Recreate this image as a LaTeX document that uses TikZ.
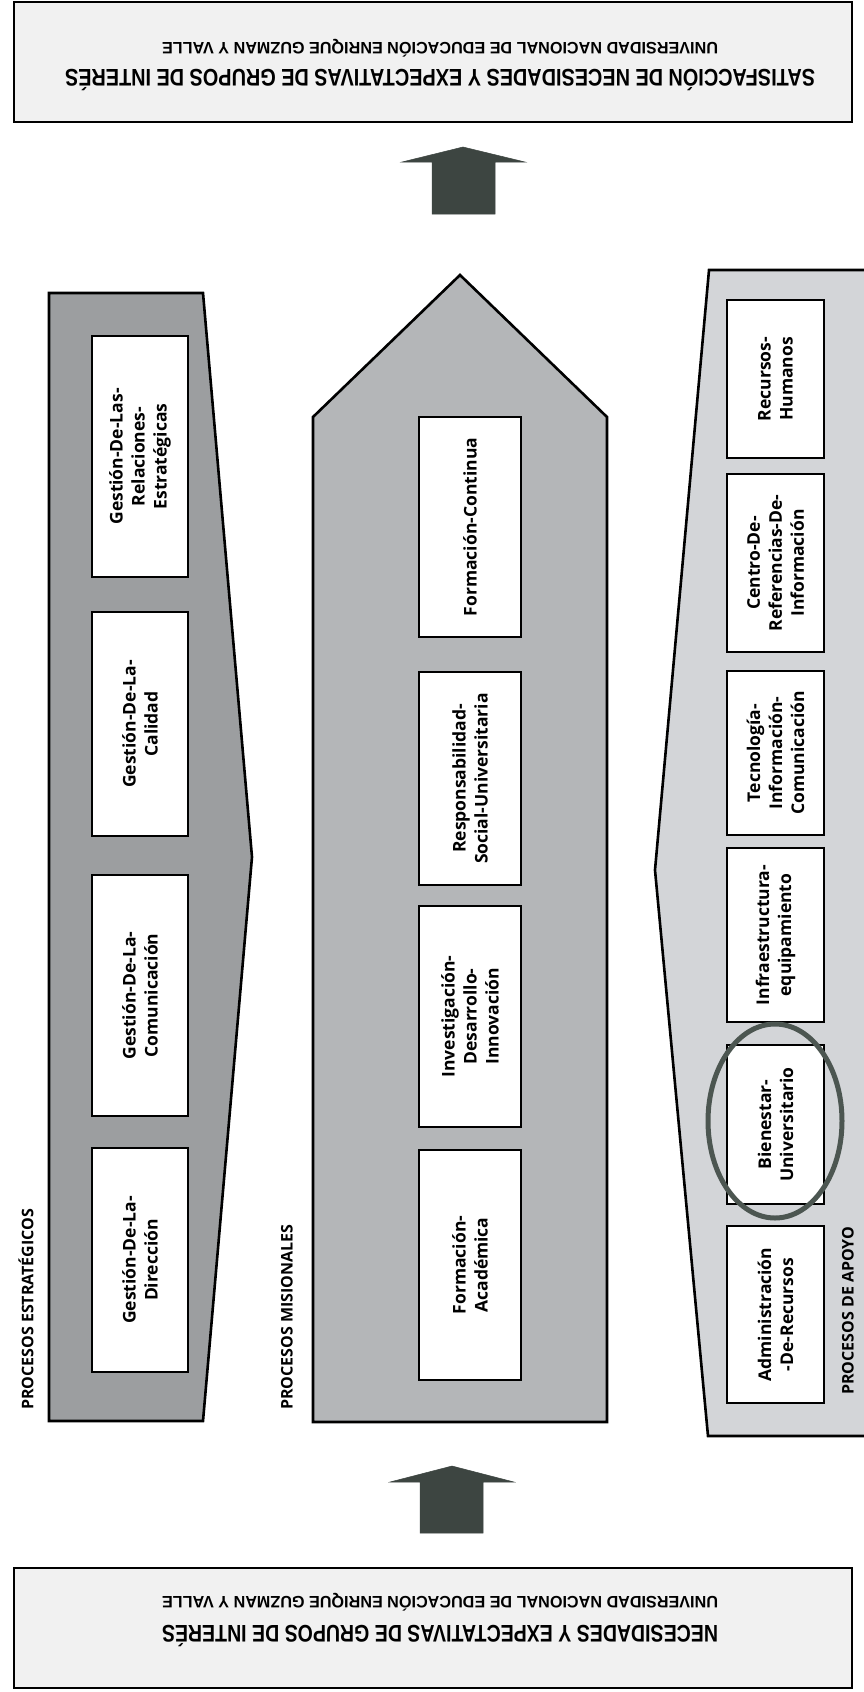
\documentclass[tikz,border=0pt]{standalone}
\usepackage{fontspec}
\setmainfont{Open Sans}
\newfontfamily\headfont{Liberation Sans}
\usetikzlibrary{shapes.geometric}

\definecolor{bannerfill}{HTML}{F1F1F1}
\definecolor{stratfill}{HTML}{9C9EA0}
\definecolor{misfill}{HTML}{B4B6B8}
\definecolor{apoyofill}{HTML}{D3D5D8}
\definecolor{arrowfill}{HTML}{3D4541}
\definecolor{ringcol}{HTML}{4C5651}

% scale a text horizontally to a given width (in pt)
\newsavebox\fitbox
\newcommand\fitwidth[2]{\sbox\fitbox{#2}\pgfmathsetmacro\fitratio{#1/\the\wd\fitbox}\scalebox{\fitratio}[1]{\usebox\fitbox}}

\begin{document}
\begin{tikzpicture}[x=1pt,y=-1pt,
  banner/.style={draw=black, fill=bannerfill, line width=2.2pt, minimum width=838pt, minimum height=120pt, inner sep=0pt},
  panel/.style={draw=black, line width=2.6pt, line join=miter},
  procbox/.style={draw=black, fill=white, line width=2pt, rotate=90, align=center, inner sep=0pt,
    font=\fontsize{17.5}{22}\selectfont\bfseries},
  grouplabel/.style={rotate=90, anchor=west, inner sep=0pt, font=\fontsize{16}{18}\selectfont\bfseries},
  bigline/.style={rotate=180, inner sep=0pt, font=\headfont\fontsize{24}{24}\selectfont\bfseries},
  smallline/.style={rotate=180, inner sep=0pt, font=\headfont\fontsize{16.5}{16.5}\selectfont\bfseries},
  uparrow/.style={fill=arrowfill, draw=arrowfill, line width=0.5pt, line join=miter}
]
\useasboundingbox (0,0) rectangle (863,1692);
\fill[white] (0,0) rectangle (863,1692);

% ---- banners -------------------------------------------------------
\node[banner] (topbanner) at (433,62) {};
\node[smallline] (topuni) at (440,48) {\fitwidth{556}{UNIVERSIDAD NACIONAL DE EDUCACIÓN ENRIQUE GUZMAN Y VALLE}};
\node[bigline] (topsat) at (440,80) {\fitwidth{750}{SATISFACCIÓN DE NECESIDADES Y EXPECTATIVAS DE GRUPOS DE INTERÉS}};

\node[banner] (botbanner) at (433,1628) {};
\node[smallline] (botuni) at (440,1602) {\fitwidth{556}{UNIVERSIDAD NACIONAL DE EDUCACIÓN ENRIQUE GUZMAN Y VALLE}};
\node[bigline] (botnec) at (440,1636) {\fitwidth{556}{NECESIDADES Y EXPECTATIVAS DE GRUPOS DE INTERÉS}};

% ---- arrows ----------------------------------------------------------
\draw[uparrow] (463,147) -- (525,162) -- (495,162) -- (495,214) -- (432,214) -- (432,162) -- (402,162) -- cycle;
\draw[uparrow] (452,1466) -- (514,1482) -- (483,1482) -- (483,1533) -- (420,1533) -- (420,1482) -- (390,1482) -- cycle;

% ---- strategic processes (chevron to the right) ----------------------
\draw[panel, fill=stratfill] (49,293) -- (203,293) -- (252,857) -- (203,1421) -- (49,1421) -- cycle;
\node[procbox, minimum width=241pt, minimum height=96pt] (relest) at (140,456.5) {Gestión-De-Las-\\Relaciones-\\Estratégicas};
\node[procbox, minimum width=224pt, minimum height=96pt] (calidad) at (140,724) {Gestión-De-La-\\Calidad};
\node[procbox, minimum width=241pt, minimum height=96pt] (comunic) at (140,995.5) {Gestión-De-La-\\Comunicación};
\node[procbox, minimum width=224pt, minimum height=96pt] (direcc) at (140,1260) {Gestión-De-La-\\Dirección};
\node[grouplabel] (lblest) at (26,1410) {PROCESOS ESTRATÉGICOS};

% ---- mission processes (house shape) -------------------------------
\draw[panel, fill=misfill] (313,417) -- (460,275) -- (607,417) -- (607,1422) -- (313,1422) -- cycle;
\node[procbox, minimum width=220pt, minimum height=102pt] (fcont) at (470,527) {Formación-Continua};
\node[procbox, minimum width=213pt, minimum height=102pt] (rsu) at (470,778.5) {Responsabilidad-\\Social-Universitaria};
\node[procbox, minimum width=221pt, minimum height=102pt] (idi) at (470,1016.5) {Investigación-\\Desarrollo-\\Innovación};
\node[procbox, minimum width=230pt, minimum height=102pt] (facad) at (470,1265) {Formación-\\Académica};
\node[grouplabel] (lblmis) at (287,1410) {PROCESOS MISIONALES};

% ---- support processes (notched on the left) -------------------------
\draw[panel, fill=apoyofill] (880,270) -- (709,270) -- (655,870) -- (708,1436) -- (880,1436);
\node[procbox, minimum width=158pt, minimum height=97pt] (rrhh) at (775.5,379) {Recursos-\\Humanos};
\node[procbox, minimum width=178pt, minimum height=97pt] (cri) at (775.5,563) {Centro-De-\\Referencias-De-\\Información};
\node[procbox, minimum width=164pt, minimum height=97pt] (tic) at (775.5,753) {Tecnología-\\Información-\\Comunicación};
\node[procbox, minimum width=174pt, minimum height=97pt] (infra) at (775.5,935) {Infraestructura-\\equipamiento};
\node[procbox, minimum width=159pt, minimum height=97pt] (bienestar) at (775.5,1124.5) {Bienestar-\\Universitario};
\node[procbox, minimum width=177pt, minimum height=97pt] (admin) at (775.5,1314.5) {Administración\\-De-Recursos};
\node[grouplabel] (lblapo) at (848,1395) {PROCESOS DE APOYO};

% ring highlighting the welfare process
\node[ellipse, draw=ringcol, line width=5pt, minimum width=134pt, minimum height=194pt, inner sep=0pt] (ring) at (775,1121) {};
\end{tikzpicture}
\end{document}
